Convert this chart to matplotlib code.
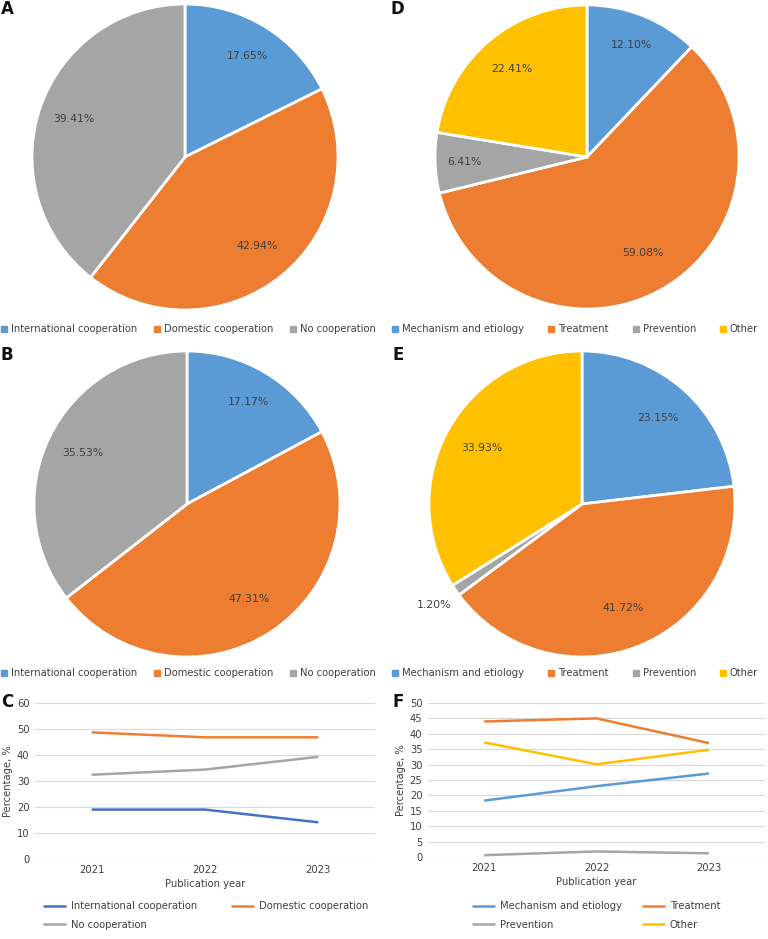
import numpy as np
import matplotlib.pyplot as plt
from matplotlib.lines import Line2D

# pie data
coop_labels = ['International cooperation', 'Domestic cooperation', 'No cooperation']
coop_a = [17.65, 42.94, 39.41]
coop_b = [17.17, 47.31, 35.53]

topic_labels = ['Mechanism and etiology', 'Treatment', 'Prevention', 'Other']
topic_d = [12.10, 59.08, 6.41, 22.41]
topic_e = [23.15, 41.72, 1.20, 33.93]

# line data
years = ['2021', '2022', '2023']
intl = [19.0, 19.0, 14.1]
domestic = [48.7, 46.8, 46.8]
nocoop = [32.4, 34.4, 39.3]

mech = [18.3, 23.0, 27.1]
treat = [44.0, 45.0, 37.0]
prev = [0.6, 1.8, 1.2]
other = [37.2, 30.1, 34.8]

BLUE = '#5B9BD5'
DBLUE = '#4472C4'
ORANGE = '#ED7D31'
GRAY = '#A5A5A5'
YELLOW = '#FFC000'
TXT = '#404040'
FS = 7.2

W, H = 768, 939
fig = plt.figure(figsize=(W / 100, H / 100), dpi=100)
plt.rcParams['font.family'] = 'DejaVu Sans'


def px_axes(x0, y0, x1, y1):
    return fig.add_axes([x0 / W, 1 - y1 / H, (x1 - x0) / W, (y1 - y0) / H])


def draw_pie(cx, cy, r, values, colors, dists):
    ax = px_axes(cx - r, cy - r, cx + r, cy + r)
    wedges, _ = ax.pie(values, colors=colors, startangle=90, counterclock=False,
                       wedgeprops=dict(edgecolor='white', linewidth=2))
    ax.set_xlim(-1, 1)
    ax.set_ylim(-1, 1)
    for w, v, d in zip(wedges, values, dists):
        ang = np.deg2rad((w.theta1 + w.theta2) / 2)
        ax.text(d * np.cos(ang), d * np.sin(ang), '{:.2f}%'.format(v),
                ha='center', va='center', fontsize=7.8, color=TXT)
    return ax


def square_legend(x, y, labels, colors, spacing):
    handles = [Line2D([], [], marker='s', linestyle='none', markersize=4,
                      markerfacecolor=c, markeredgecolor=c) for c in colors]
    fig.legend(handles, labels, loc='center left', bbox_to_anchor=(x / W, 1 - y / H),
               ncol=len(labels), frameon=False, fontsize=FS, handlelength=0.6,
               handletextpad=0.4, columnspacing=spacing, borderpad=0,
               borderaxespad=0, labelcolor=TXT)


draw_pie(185, 157, 153, coop_a, [BLUE, ORANGE, GRAY], [0.78, 0.75, 0.77])
draw_pie(187, 504, 153, coop_b, [BLUE, ORANGE, GRAY], [0.78, 0.74, 0.76])
draw_pie(587, 157, 152, topic_d, [BLUE, ORANGE, GRAY, YELLOW], [0.79, 0.73, 0.81, 0.76])
draw_pie(582, 504, 153, topic_e, [BLUE, ORANGE, GRAY, YELLOW], [0.75, 0.73, 1.17, 0.75])

square_legend(1, 329, coop_labels, [BLUE, ORANGE, GRAY], 1.65)
square_legend(1, 673, coop_labels, [BLUE, ORANGE, GRAY], 1.65)
square_legend(392, 329, topic_labels, [BLUE, ORANGE, GRAY, YELLOW], 2.4)
square_legend(392, 673, topic_labels, [BLUE, ORANGE, GRAY, YELLOW], 2.4)


def draw_lines(box, series, labels, colors, ymax, ystep, leg_x, colsp, order):
    ax = px_axes(*box)
    x = np.arange(len(years))
    for s, c, lab in zip(series, colors, labels):
        ax.plot(x, s, color=c, linewidth=1.8, label=lab, solid_capstyle='butt')
    ax.set_xlim(-0.5, 2.5)
    ax.set_ylim(0, ymax)
    ax.set_yticks(np.arange(0, ymax + 1, ystep))
    ax.set_xticks(x)
    ax.set_xticklabels(years)
    ax.tick_params(length=0, labelsize=FS, labelcolor=TXT, pad=4)
    ax.grid(axis='y', color='#D9D9D9', linewidth=0.8)
    ax.set_axisbelow(True)
    for sp in ax.spines.values():
        sp.set_visible(False)
    ax.set_xlabel('Publication year', fontsize=FS, color=TXT, labelpad=3)
    ax.set_ylabel('Percentage, %', fontsize=FS, color=TXT, labelpad=3)
    h, l = ax.get_legend_handles_labels()
    # legend is filled column by column, so reorder to read row by row
    h = [h[i] for i in order]
    l = [l[i] for i in order]
    fig.legend(h, l, loc='upper left', bbox_to_anchor=(leg_x / W, 1 - 901 / H),
               ncol=2, frameon=False, fontsize=FS, handlelength=2.3,
               handletextpad=0.5, columnspacing=colsp, borderpad=0,
               borderaxespad=0, labelspacing=0.85, labelcolor=TXT)
    return ax


draw_lines((35, 703, 375, 859), [intl, domestic, nocoop], coop_labels,
           [DBLUE, ORANGE, GRAY], 60, 10, 43, 3.4, [0, 2, 1])
draw_lines((428, 703, 765, 857), [mech, treat, prev, other], topic_labels,
           [BLUE, ORANGE, GRAY, YELLOW], 50, 5, 472, 2.0, [0, 2, 1, 3])

for letter, x, y in [('A', 1, 9), ('D', 391, 9), ('B', 1, 355), ('E', 392, 355),
                     ('C', 1, 702), ('F', 392, 702)]:
    fig.text(x / W, 1 - y / H, letter, fontsize=12, fontweight='bold',
             ha='left', va='center', color='#111111')

fig.savefig('out.png', dpi=100)
